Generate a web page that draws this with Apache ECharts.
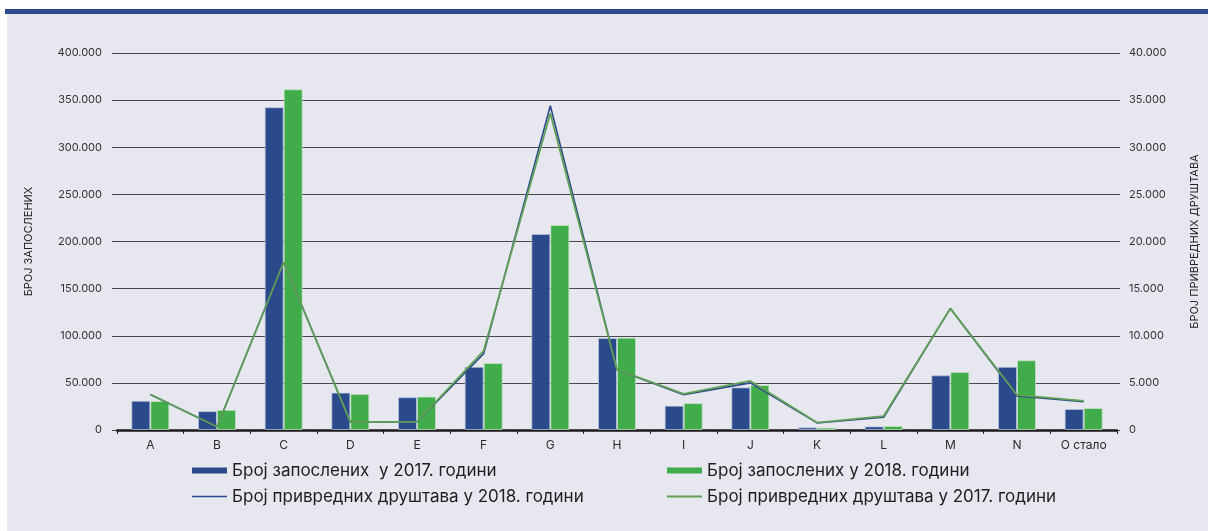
<!DOCTYPE html>
<html>
<head>
<meta charset="utf-8">
<script src="https://cdn.jsdelivr.net/npm/echarts@6/dist/echarts.min.js"></script>
<style>
  html, body { margin: 0; padding: 0; background: #ffffff; }
  #wrap { position: relative; width: 1208px; height: 531px; overflow: hidden; background: #ffffff; }
  #band { position: absolute; left: 5px; top: 9px; width: 1203px; height: 5px; background: #2b4a8c; }
  #panel { position: absolute; left: 7px; top: 14px; width: 1201px; height: 517px; background: #e7e7f0; }
  #chart { position: absolute; left: 0; top: 0; width: 1208px; height: 531px; }
</style>
</head>
<body>
<div id="wrap">
  <div id="band"></div>
  <div id="panel"></div>
  <div id="chart"></div>
</div>
<script>
const categories = ['A', 'B', 'C', 'D', 'E', 'F', 'G', 'H', 'I', 'J', 'K', 'L', 'M', 'N', 'О стало'];
const employees2017 = [31000, 20000, 342500, 39700, 34800, 67000, 208000, 97500, 25800, 45200, 2800, 3800, 58000, 67000, 22300];
const employees2018 = [30700, 21400, 361500, 38300, 35500, 71000, 217500, 98000, 28500, 47600, 2500, 4200, 61500, 74000, 23300];
const companies2018 = [3760, 340, 17800, 860, 860, 8100, 34400, 6400, 3750, 5000, 750, 1350, 12900, 3600, 3000];
const companies2017 = [3760, 340, 17800, 860, 860, 8400, 33600, 6400, 3830, 5200, 790, 1480, 12900, 3720, 3100];
const leftTicks = { min: 0, max: 400000, interval: 50000 };
const rightTicks = { min: 0, max: 40000, interval: 5000 };

const names = [
  'Број запослених  у 2017. години',
  'Број запослених у 2018. години',
  'Број привредних друштава у 2018. години',
  'Број привредних друштава у 2017. години'
];

function fmt(v) {
  if (v === 0) return '0';
  const s = String(Math.round(v));
  return s.replace(/\B(?=(\d{3})+(?!\d))/g, '.');
}

const FONT = 'Inter';
const chart = echarts.init(document.getElementById('chart'), null, { renderer: 'canvas' });

const legendText = { fontFamily: FONT, fontSize: 17, color: '#1e1e1e' };

function legendItem(name, left, top, h) {
  return {
    left: left, top: top, orient: 'horizontal',
    itemWidth: 35, itemHeight: h, itemGap: 0,
    icon: 'rect',
    itemStyle: { borderWidth: 0 },
    lineStyle: { width: 0 },
    textStyle: legendText,
    data: [{ name: name, icon: 'rect', itemStyle: { borderWidth: 0 } }]
  };
}

chart.setOption({
  backgroundColor: 'transparent',
  animation: false,
  textStyle: { fontFamily: FONT },
  grid: { left: 117, right: 87, top: 53, bottom: 101, containLabel: false },
  legend: [
    legendItem(names[0], 187, 457, 6),
    legendItem(names[2], 187, 483, 1.6),
    legendItem(names[1], 662, 457, 6),
    legendItem(names[3], 662, 483, 1.8)
  ],
  xAxis: {
    type: 'category',
    data: categories,
    axisLine: { show: true, lineStyle: { color: '#1a1a1a', width: 2.5 } },
    axisTick: { show: true, length: 4, lineStyle: { color: '#1a1a1a', width: 1 } },
    axisLabel: { fontFamily: FONT, fontSize: 12, color: '#2a2a2a', margin: 9 },
    splitLine: { show: false }
  },
  yAxis: [
    {
      type: 'value',
      min: leftTicks.min, max: leftTicks.max, interval: leftTicks.interval,
      name: 'БРОЈ ЗАПОСЛЕНИХ',
      nameLocation: 'middle', nameRotate: 90, nameGap: 83,
      nameTextStyle: { fontFamily: FONT, fontSize: 11, color: '#222222' },
      axisLine: { show: false },
      axisTick: { show: true, length: 5, lineStyle: { color: '#444444' } },
      axisLabel: { fontFamily: FONT, fontSize: 11, color: '#333333', margin: 15, formatter: fmt },
      splitLine: { show: true, lineStyle: { color: '#4a4a4a', width: 1 } }
    },
    {
      type: 'value',
      position: 'right',
      min: rightTicks.min, max: rightTicks.max, interval: rightTicks.interval,
      name: 'БРОЈ ПРИВРЕДНИХ ДРУШТАВА',
      nameLocation: 'middle', nameRotate: 90, nameGap: 72,
      nameTextStyle: { fontFamily: FONT, fontSize: 11, color: '#222222' },
      axisLine: { show: false },
      axisTick: { show: true, length: 3, lineStyle: { color: '#444444' } },
      axisLabel: { fontFamily: FONT, fontSize: 11, color: '#333333', margin: 12, formatter: fmt },
      splitLine: { show: false }
    }
  ],
  series: [
    {
      name: names[0], type: 'bar', yAxisIndex: 0, data: employees2017,
      barWidth: 19, barGap: '0%',
      itemStyle: { color: '#2b4a8c', borderColor: 'rgba(190,200,225,0.7)', borderWidth: 1 }
    },
    {
      name: names[1], type: 'bar', yAxisIndex: 0, data: employees2018,
      barWidth: 19, barGap: '0%',
      itemStyle: { color: '#40ad4a', borderColor: 'rgba(200,230,200,0.7)', borderWidth: 1 }
    },
    {
      name: names[2], type: 'line', yAxisIndex: 1, data: companies2018,
      symbol: 'none', showSymbol: false,
      lineStyle: { color: '#2b4a8c', width: 1.6 },
      itemStyle: { color: '#2b4a8c' },
      z: 3
    },
    {
      name: names[3], type: 'line', yAxisIndex: 1, data: companies2017,
      symbol: 'none', showSymbol: false,
      lineStyle: { color: '#62a055', width: 1.8 },
      itemStyle: { color: '#62a055' },
      z: 4
    }
  ]
});
</script>
</body>
</html>
